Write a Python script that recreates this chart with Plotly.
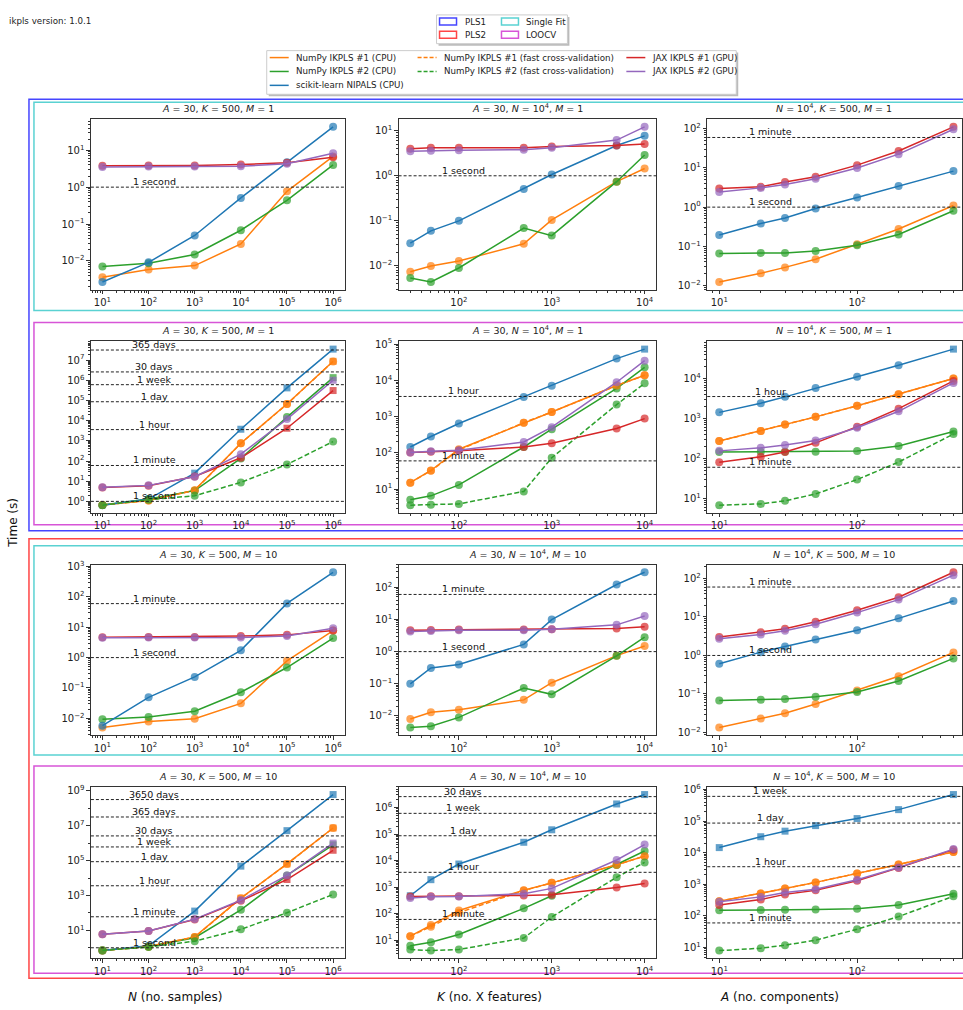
import math
import plotly.graph_objects as go

# ---------------- data ----------------
N_SAMPLES = [1e1, 1e2, 1e3, 1e4, 1e5, 1e6]
K_FEATURES = [30, 50, 100, 500, 1000, 5000, 10000]
A_COMPONENTS = [10, 20, 30, 50, 100, 200, 500]

SERIES_ORDER = ["np1", "np2", "sk", "np1_fast", "np2_fast", "jax1", "jax2"]
SERIES_LABELS = {
    "np1": "NumPy IKPLS #1 (CPU)",
    "np2": "NumPy IKPLS #2 (CPU)",
    "sk": "scikit-learn NIPALS (CPU)",
    "np1_fast": "NumPy IKPLS #1 (fast cross-validation)",
    "np2_fast": "NumPy IKPLS #2 (fast cross-validation)",
    "jax1": "JAX IKPLS #1 (GPU)",
    "jax2": "JAX IKPLS #2 (GPU)",
}

THRESHOLD_NAMES = ["1 second", "1 minute", "1 hour", "1 day", "1 week", "30 days", "365 days", "3650 days"]
THRESHOLD_SECONDS = [1, 60, 3600, 86400, 604800, 2592000, 31536000, 315360000]

# PLS1, single fit
PLS1_FIT_N = dict(
    np1=[0.0036, 0.0059, 0.0075, 0.029, 0.77, 6.8],
    np2=[0.0071, 0.0087, 0.015, 0.068, 0.44, 4.0],
    sk=[0.0027, 0.0092, 0.049, 0.51, 4.7, 43],
    jax1=[3.8, 3.85, 3.85, 4.1, 4.6, 6.5],
    jax2=[3.5, 3.6, 3.6, 3.7, 4.3, 8.3],
)
PLS1_FIT_K = dict(
    np1=[0.0074, 0.010, 0.0128, 0.031, 0.105, 0.74, 1.45],
    np2=[0.0054, 0.0044, 0.0090, 0.069, 0.047, 0.74, 2.9],
    sk=[0.032, 0.060, 0.10, 0.51, 1.07, 4.7, 7.7],
    jax1=[3.96, 4.2, 4.2, 4.2, 4.45, 4.7, 5.1],
    jax2=[3.5, 3.6, 3.7, 3.8, 4.2, 6.2, 12.2],
)
PLS1_FIT_A = dict(
    np1=[0.0123, 0.0204, 0.029, 0.047, 0.113, 0.277, 1.1],
    np2=[0.066, 0.068, 0.068, 0.076, 0.107, 0.20, 0.81],
    sk=[0.195, 0.38, 0.53, 0.92, 1.76, 3.47, 8.3],
    jax1=[3.0, 3.3, 4.4, 6.0, 11.8, 27, 112],
    jax2=[2.45, 3.1, 3.8, 5.3, 10, 22.5, 97],
)
# PLS1, leave-one-out cross-validation
PLS1_CV_N = dict(
    np1=[0.66, 1.1, 3.6, 760, 6.7e4, 8.7e6],
    np2=[0.66, 1.3, 3.4, 134, 1.5e4, 1.35e6],
    sk=[0.65, 1.3, 25, 3750, 4.2e5, 3.5e7],
    np1_fast=[0.66, 1.1, 3.5, 750, 6.6e4, 8.6e6],
    np2_fast=[0.65, 1.2, 1.9, 8.7, 67, 920],
    jax1=[4.9, 5.9, 17, 144, 4200, 3.1e5],
    jax2=[5.0, 6.2, 16.5, 218, 1.2e4, 1.0e6],
)
PLS1_CV_K = dict(
    np1=[15, 32.6, 126, 680, 1340, 7200, 1.38e4],
    np2=[5.1, 6.5, 13, 145, 450, 6000, 2.3e4],
    sk=[145, 283, 645, 3500, 7100, 4.0e4, 7.3e4],
    np1_fast=[15, 32, 120, 680, 1340, 7200, 1.38e4],
    np2_fast=[3.6, 3.7, 3.9, 8.6, 73, 2150, 8300],
    jax1=[102, 108, 115, 145, 185, 470, 880],
    jax2=[102, 111, 118, 200, 510, 8900, 3.5e4],
)
PLS1_CV_A = dict(
    np1=[273, 490, 715, 1110, 2100, 4100, 1.02e4],
    np2=[145, 147, 147, 147, 153, 205, 475],
    sk=[1440, 2450, 3530, 5880, 1.13e4, 2.2e4, 5.6e4],
    np1_fast=[273, 490, 715, 1110, 2100, 4100, 1.02e4],
    np2_fast=[6.7, 7.2, 8.6, 12.8, 29.4, 81, 410],
    jax1=[80, 110, 145, 247, 625, 1780, 8900],
    jax2=[155, 185, 217, 284, 590, 1530, 7900],
)
# PLS2, single fit
PLS2_FIT_N = dict(
    np1=[0.005, 0.0079, 0.0097, 0.031, 0.78, 7.8],
    np2=[0.0092, 0.011, 0.017, 0.072, 0.47, 4.4],
    sk=[0.0057, 0.049, 0.23, 1.74, 61, 646],
    jax1=[4.7, 4.8, 4.8, 5.1, 5.6, 7.8],
    jax2=[4.5, 4.6, 4.6, 4.6, 5.1, 9.3],
)
PLS2_FIT_K = dict(
    np1=[0.008, 0.013, 0.0155, 0.0316, 0.108, 0.75, 1.5],
    np2=[0.0044, 0.0048, 0.0090, 0.074, 0.047, 0.74, 2.8],
    sk=[0.10, 0.31, 0.40, 1.68, 9.9, 122, 293],
    jax1=[4.65, 4.7, 4.9, 4.9, 5.0, 5.25, 5.9],
    jax2=[4.2, 4.4, 4.6, 4.6, 5.0, 6.8, 12.9],
)
PLS2_FIT_A = dict(
    np1=[0.0135, 0.023, 0.0315, 0.055, 0.123, 0.288, 1.2],
    np2=[0.068, 0.071, 0.074, 0.085, 0.112, 0.218, 0.84],
    sk=[0.61, 1.22, 1.7, 2.6, 4.5, 9.2, 26],
    jax1=[3.0, 4.0, 4.95, 7.5, 15, 32.5, 145],
    jax2=[2.7, 3.5, 4.4, 6.5, 13, 28.3, 122],
)
# PLS2, leave-one-out cross-validation
PLS2_CV_N = dict(
    np1=[0.69, 1.17, 4.2, 700, 6.4e4, 7.4e6],
    np2=[0.72, 1.2, 3.8, 150, 1.4e4, 8.0e5],
    sk=[0.7, 1.3, 127, 4.8e4, 5.2e6, 6.1e8],
    np1_fast=[0.69, 1.15, 4.1, 690, 6.3e4, 7.3e6],
    np2_fast=[0.7, 1.1, 2.4, 11.4, 102, 1150],
    jax1=[5.9, 9.2, 42, 490, 8200, 3.9e5],
    jax2=[5.9, 9.2, 44, 540, 1.4e4, 1.0e6],
)
PLS2_CV_K = dict(
    np1=[14, 37, 130, 760, 1440, 6900, 1.47e4],
    np2=[6.1, 8.2, 16.3, 157, 470, 6800, 2.3e4],
    sk=[470, 1900, 7400, 4.9e4, 1.45e5, 1.37e6, 3.1e6],
    np1_fast=[14, 32, 108, 740, 1440, 6900, 1.47e4],
    np2_fast=[4.4, 4.0, 4.4, 11.9, 74, 2350, 8500],
    jax1=[445, 450, 450, 480, 510, 960, 1350],
    jax2=[385, 430, 445, 560, 890, 1.05e4, 4.0e4],
)
PLS2_CV_A = dict(
    np1=[290, 510, 740, 1150, 2180, 4260, 1.06e4],
    np2=[150, 153, 157, 160, 170, 220, 500],
    sk=[1.45e4, 3.2e4, 4.8e4, 7.2e4, 1.2e5, 2.3e5, 6.9e5],
    np1_fast=[290, 510, 740, 1150, 2180, 4260, 1.06e4],
    np2_fast=[8, 9.5, 11.9, 17, 38, 95, 420],
    jax1=[220, 330, 480, 650, 1300, 3300, 1.25e4],
    jax2=[280, 400, 550, 700, 1400, 3400, 1.3e4],
)

# indices of points that are estimated (drawn as squares)
PLS1_CV_N_EST = dict(sk=[2, 3, 4, 5], np1=[5], np2=[5], jax1=[4, 5], jax2=[5])
PLS1_CV_K_EST = dict(sk=[6])
PLS1_CV_A_EST = dict(sk=[6])
PLS2_CV_N_EST = dict(sk=[2, 3, 4, 5], np1=[3, 4, 5], np2=[5], jax1=[4, 5], jax2=[5])
PLS2_CV_K_EST = dict(sk=[0, 1, 2, 3, 4, 5, 6])
PLS2_CV_A_EST = dict(sk=[0, 1, 2, 3, 4, 5, 6])

TITLES_M1 = ["<i>A</i> = 30, <i>K</i> = 500, <i>M</i> = 1",
             "<i>A</i> = 30, <i>N</i> = 10<sup>4</sup>, <i>M</i> = 1",
             "<i>N</i> = 10<sup>4</sup>, <i>K</i> = 500, <i>M</i> = 1"]
TITLES_M10 = ["<i>A</i> = 30, <i>K</i> = 500, <i>M</i> = 10",
              "<i>A</i> = 30, <i>N</i> = 10<sup>4</sup>, <i>M</i> = 10",
              "<i>N</i> = 10<sup>4</sup>, <i>K</i> = 500, <i>M</i> = 10"]
X_TITLES = ["<i>N</i> (no. samples)", "<i>K</i> (no. X features)", "<i>A</i> (no. components)"]

# ---------------- styles ----------------
COLORS = {"np1": "#ff7f0e", "np2": "#2ca02c", "sk": "#1f77b4", "np1_fast": "#ff7f0e",
          "np2_fast": "#2ca02c", "jax1": "#d62728", "jax2": "#9467bd"}
DASHES = {"np1": "solid", "np2": "solid", "sk": "solid", "np1_fast": "5px,2.5px",
          "np2_fast": "5px,2.5px", "jax1": "solid", "jax2": "solid"}
C_PLS1, C_PLS2 = "rgb(70,70,255)", "rgb(255,70,70)"
C_FIT, C_CV = "rgb(90,210,210)", "rgb(215,85,215)"
FONT = "DejaVu Sans"

W, H = 963, 1010
COL_PX = [(91, 345), (399, 657), (708, 963)]
ROW_PX = [(115, 287), (339, 512), (564, 736), (788, 961)]
X_RANGES = [(0.75, 6.25), (1.351, 4.126), (0.913, 2.761)]

PANELS = [
    [PLS1_FIT_N, PLS1_FIT_K, PLS1_FIT_A],
    [PLS1_CV_N, PLS1_CV_K, PLS1_CV_A],
    [PLS2_FIT_N, PLS2_FIT_K, PLS2_FIT_A],
    [PLS2_CV_N, PLS2_CV_K, PLS2_CV_A],
]
ESTIMATED = [
    [{}, {}, {}],
    [PLS1_CV_N_EST, PLS1_CV_K_EST, PLS1_CV_A_EST],
    [{}, {}, {}],
    [PLS2_CV_N_EST, PLS2_CV_K_EST, PLS2_CV_A_EST],
]
TITLES = [TITLES_M1, TITLES_M1, TITLES_M10, TITLES_M10]
X_VALUES = [N_SAMPLES, K_FEATURES, A_COMPONENTS]


def px(x):
    return x / W


def py(y):
    return 1 - y / H


def sup(e):
    return "10<sup>" + ("\u2212" if e < 0 else "") + str(abs(e)) + "</sup>"


fig = go.Figure()
shapes = []
annotations = []
layout = {}

for r in range(4):
    for c in range(3):
        idx = r * 3 + c + 1
        xn = "x" if idx == 1 else f"x{idx}"
        yn = "y" if idx == 1 else f"y{idx}"
        data = PANELS[r][c]
        est = ESTIMATED[r][c]
        xs = X_VALUES[c]
        for s in SERIES_ORDER:
            if s not in data:
                continue
            ys = data[s]
            syms = ["square" if i in est.get(s, []) else "circle" for i in range(len(ys))]
            fig.add_trace(go.Scatter(
                x=xs, y=ys, xaxis=xn, yaxis=yn, mode="lines+markers",
                line=dict(color=COLORS[s], width=1.5, dash=DASHES[s]),
                marker=dict(color=COLORS[s], symbol=syms,
                            size=[7 if q == "square" else 8 for q in syms], line=dict(width=0)),
                showlegend=False, hoverinfo="skip", cliponaxis=False))

        all_y = [v for s in data for v in data[s]]
        lo, hi = math.log10(min(all_y)), math.log10(max(all_y))
        pad = 0.05 * (hi - lo)
        ylo, yhi = lo - pad, hi + pad
        stride = 2 if (yhi - ylo) > 9.5 else 1
        exps = [e for e in range(math.ceil(ylo), math.floor(yhi) + 1) if (e - 1) % stride == 0]
        yminor = []
        for e in range(math.floor(ylo), math.ceil(yhi) + 1):
            if stride == 1:
                for k in range(2, 10):
                    v = k * 10 ** e
                    if ylo <= math.log10(v) <= yhi:
                        yminor.append(v)
            elif e not in exps and ylo <= e <= yhi:
                yminor.append(10 ** e)

        xlo, xhi = X_RANGES[c]
        xexps = [e for e in range(math.ceil(xlo), math.floor(xhi) + 1)]
        xminor = []
        for e in range(math.floor(xlo), math.ceil(xhi) + 1):
            for k in range(2, 10):
                v = k * 10 ** e
                if xlo <= math.log10(v) <= xhi:
                    xminor.append(v)

        x0p, x1p = COL_PX[c]
        y0p, y1p = ROW_PX[r]
        axcommon = dict(showline=True, mirror=True, linecolor="#333", linewidth=0.9,
                        showgrid=False, zeroline=False, ticks="outside", ticklen=3.5,
                        tickwidth=0.9, tickcolor="#333",
                        tickfont=dict(size=10, color="#222", family=FONT))
        layout["xaxis" if idx == 1 else f"xaxis{idx}"] = dict(
            axcommon, type="log", domain=[px(x0p), min(1.0, px(x1p))], range=[xlo, xhi],
            anchor=yn, tickmode="array", tickvals=[10 ** e for e in xexps],
            ticktext=[sup(e) for e in xexps],
            minor=dict(tickmode="array", tickvals=xminor, ticks="outside", ticklen=2,
                       tickwidth=0.7, tickcolor="#333", showgrid=False))
        layout["yaxis" if idx == 1 else f"yaxis{idx}"] = dict(
            axcommon, type="log", domain=[py(y1p), py(y0p)], range=[ylo, yhi],
            anchor=xn, tickmode="array", tickvals=[10 ** e for e in exps],
            ticktext=[sup(e) for e in exps],
            minor=dict(tickmode="array", tickvals=yminor, ticks="outside", ticklen=2,
                       tickwidth=0.7, tickcolor="#333", showgrid=False))

        # threshold lines
        xdom = "x domain" if idx == 1 else f"x{idx} domain"
        for name, sec in zip(THRESHOLD_NAMES, THRESHOLD_SECONDS):
            if min(all_y) <= sec <= max(all_y):
                shapes.append(dict(type="line", xref=xdom, x0=0, x1=1, yref=yn, y0=sec, y1=sec,
                                   line=dict(color="#222", width=1, dash="3px,2px"), layer="above"))
                annotations.append(dict(xref=xdom, x=0.25, yref=yn, y=math.log10(sec), text=name,
                                        showarrow=False, xanchor="center", yanchor="bottom", yshift=-2,
                                        font=dict(size=9.5, color="#111", family=FONT)))
        # panel title
        annotations.append(dict(xref="paper", yref="paper", x=px((x0p + x1p) / 2 if c < 2 else 835),
                                y=py(y0p - 3), text=TITLES[r][c], showarrow=False,
                                xanchor="center", yanchor="bottom",
                                font=dict(size=9.5, color="#222", family=FONT)))

# group rectangles
def rect(x0, y0, x1, y1, color, width=1.5):
    return dict(type="rect", xref="paper", yref="paper", x0=px(x0), x1=px(x1), y0=py(y1), y1=py(y0),
                line=dict(color=color, width=width), fillcolor="rgba(0,0,0,0)", layer="below")

shapes += [
    rect(29, 95, 1000, 530, C_PLS1),
    rect(29, 538, 1000, 981, C_PLS2),
    rect(34, 98, 1000, 308, C_FIT),
    rect(34, 320, 1000, 524, C_CV),
    rect(34, 545, 1000, 756, C_FIT),
    rect(34, 767, 1000, 976, C_CV),
]

# legend 1 (groups)
def box(x0, y0, x1, y1):
    return [
        dict(type="rect", xref="paper", yref="paper", x0=px(x0 + 2), x1=px(x1 + 2), y0=py(y1 + 2),
             y1=py(y0 + 2), line=dict(width=0), fillcolor="rgba(120,120,120,0.5)", layer="above"),
        dict(type="rect", xref="paper", yref="paper", x0=px(x0), x1=px(x1), y0=py(y1), y1=py(y0),
             line=dict(color="#cccccc", width=1), fillcolor="white", layer="above"),
    ]

shapes += box(437, 10, 568, 39)
for (lab, col, cx, cy) in [("PLS1", C_PLS1, 440, 16.7), ("PLS2", C_PLS2, 440, 30),
                           ("Single Fit", C_FIT, 502, 16.7), ("LOOCV", C_CV, 502, 30)]:
    shapes.append(dict(type="rect", xref="paper", yref="paper", x0=px(cx), x1=px(cx + 17),
                       y0=py(cy + 3.5), y1=py(cy - 3.5), line=dict(color=col, width=1.5),
                       fillcolor="rgba(255,255,255,0)", layer="above"))
    annotations.append(dict(xref="paper", yref="paper", x=px(cx + 23), y=py(cy), text=lab,
                            showarrow=False, xanchor="left", yanchor="middle",
                            font=dict(size=8.7, color="#222", family=FONT)))

# legend 2 (methods)
shapes += box(267, 46, 737, 90)
LEG_POS = {"np1": (270, 53), "np2": (270, 67), "sk": (270, 81),
           "np1_fast": (418, 53), "np2_fast": (418, 67),
           "jax1": (627, 53), "jax2": (627, 67)}
for s in SERIES_ORDER:
    lx, ly = LEG_POS[s]
    shapes.append(dict(type="line", xref="paper", yref="paper", x0=px(lx), x1=px(lx + 19),
                       y0=py(ly), y1=py(ly), line=dict(color=COLORS[s], width=1.5,
                       dash="4px,2px" if DASHES[s] != "solid" else "solid"), layer="above"))
    annotations.append(dict(xref="paper", yref="paper", x=px(lx + 24), y=py(ly), text=SERIES_LABELS[s],
                            showarrow=False, xanchor="left", yanchor="middle",
                            font=dict(size=8.7, color="#222", family=FONT)))

# figure texts
annotations.append(dict(xref="paper", yref="paper", x=px(7), y=py(16), text="ikpls version: 1.0.1",
                        showarrow=False, xanchor="left", yanchor="middle",
                        font=dict(size=8.7, color="#222", family=FONT)))
annotations.append(dict(xref="paper", yref="paper", x=px(13), y=py(522), text="Time (s)", textangle=-90,
                        showarrow=False, xanchor="center", yanchor="middle",
                        font=dict(size=12, color="#111", family=FONT)))
for xc, t in zip([175, 490, 780], X_TITLES):
    annotations.append(dict(xref="paper", yref="paper", x=px(xc), y=py(1000), text=t,
                            showarrow=False, xanchor="center", yanchor="middle",
                            font=dict(size=12, color="#111", family=FONT)))

fig.update_layout(
    width=W, height=H, margin=dict(l=0, r=0, t=0, b=0),
    paper_bgcolor="white", plot_bgcolor="white", showlegend=False,
    font=dict(family=FONT), shapes=shapes, annotations=annotations, **layout)

fig.write_html("out.html", config={"displayModeBar": False},
               post_script="document.body.style.margin='0';document.body.style.padding='0';"
                           "document.documentElement.style.overflow='hidden';")
